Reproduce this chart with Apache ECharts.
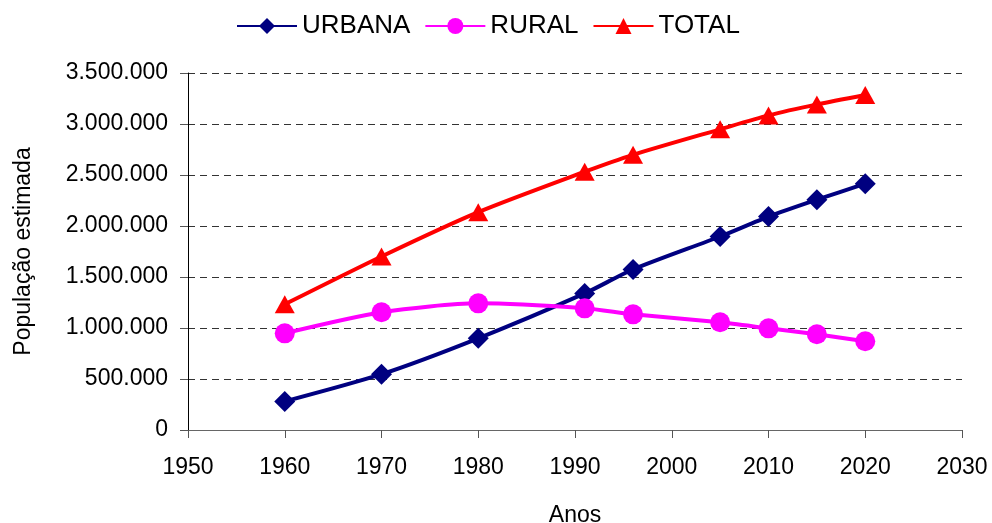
<!DOCTYPE html>
<html>
<head>
<meta charset="utf-8">
<script src="https://cdn.jsdelivr.net/npm/echarts@6/dist/echarts.min.js"></script>
<style>
  html, body { margin: 0; padding: 0; background: #fff; }
  #chart { width: 992px; height: 523px; }
</style>
</head>
<body>
<div id="chart"></div>
<script>
var anos = [1960, 1970, 1980, 1991, 1996, 2005, 2010, 2015, 2020];
var urbana = [280000, 547000, 899000, 1339000, 1574000, 1897000, 2092000, 2258000, 2415000];
var rural = [948000, 1154000, 1242000, 1193000, 1134000, 1056000, 997000, 939000, 870000];
var total = [1232000, 1701000, 2136000, 2532000, 2698000, 2948000, 3084000, 3192000, 3285000];

function pares(vals) {
    return anos.map(function (a, i) { return [a, vals[i]]; });
}

function milhar(v) {
    return String(v).replace(/\B(?=(\d{3})+(?!\d))/g, '.');
}

var fonte = 'Liberation Sans, Arial, sans-serif';
var myChart = echarts.init(document.getElementById('chart'));

function serie(nome, vals, cor, simbolo, tam) {
    return {
        name: nome,
        type: 'line',
        data: pares(vals),
        smooth: 0.25,
        symbol: simbolo,
        symbolSize: tam,
        lineStyle: { color: cor, width: 4 },
        itemStyle: { color: cor },
        z: 3
    };
}

myChart.setOption({
    animation: false,
    textStyle: { fontFamily: fonte },
    legend: {
        top: 8,
        left: 231,
        itemWidth: 60,
        itemHeight: 20,
        itemGap: 14,
        textStyle: { fontSize: 26, color: '#000', fontFamily: fonte },
        data: ['URBANA', 'RURAL', 'TOTAL']
    },
    grid: { left: 188, right: 30, top: 73, bottom: 93, containLabel: false, outerBoundsMode: 'none' },
    xAxis: {
        type: 'value',
        min: 1950,
        max: 2030,
        interval: 10,
        name: 'Anos',
        nameLocation: 'middle',
        nameGap: 74,
        nameTextStyle: { fontSize: 23, color: '#000' },
        axisLine: { show: true, onZero: false, lineStyle: { color: '#666', width: 1 } },
        axisTick: { show: true, length: 8, lineStyle: { color: '#555' } },
        axisLabel: { fontSize: 23, color: '#000', margin: 26, formatter: function (v) { return String(v); } },
        splitLine: { show: false }
    },
    yAxis: {
        type: 'value',
        min: 0,
        max: 3500000,
        interval: 500000,
        name: 'População estimada',
        nameLocation: 'middle',
        nameGap: 153,
        nameTextStyle: { fontSize: 23, color: '#000' },
        axisLine: { show: true, lineStyle: { color: '#000', width: 1 } },
        axisTick: { show: true, length: 8, lineStyle: { color: '#555' } },
        axisLabel: { fontSize: 23, color: '#000', margin: 20, formatter: milhar },
        splitLine: { show: true, lineStyle: { color: '#333', type: [7, 5], width: 1 } }
    },
    series: [
        serie('URBANA', urbana, '#000080', 'diamond', 21),
        serie('RURAL', rural, '#ff00ff', 'circle', 20),
        serie('TOTAL', total, '#ff0000', 'triangle', [20, 18])
    ]
});
</script>
</body>
</html>
